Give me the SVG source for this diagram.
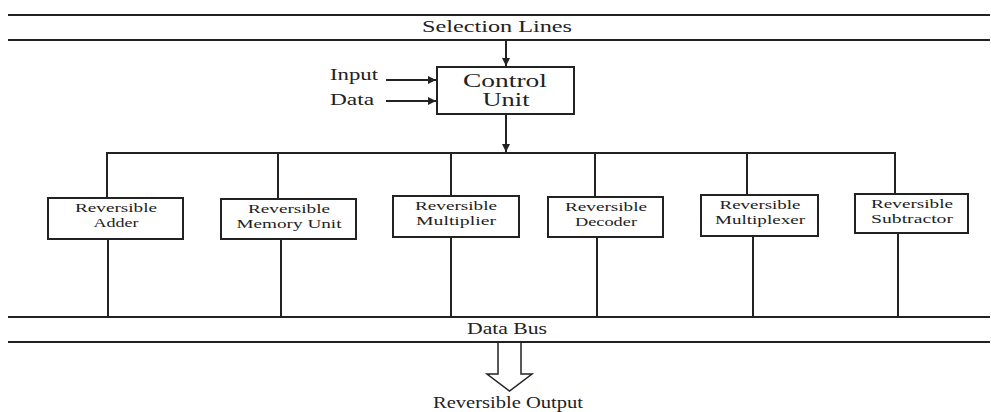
<svg xmlns="http://www.w3.org/2000/svg" width="991" height="412" viewBox="0 0 991 412">
  <style>
    .ln { stroke: #222; stroke-width: 2; fill: none; }
    .box { stroke: #222; stroke-width: 2; fill: #fff; }
    .t { font-family: "Liberation Serif", "Times New Roman", serif; fill: #222; text-anchor: middle; }
    .big { font-size: 16px; }
    .cu { font-size: 18px; }
    .sm { font-size: 13px; }
  </style>
  <defs>
    <marker id="head" viewBox="0 0 10 10" refX="10" refY="5" markerWidth="8" markerHeight="8" markerUnits="userSpaceOnUse" orient="auto">
      <path d="M0,0 L10,5 L0,10 z" fill="#222"/>
    </marker>
  </defs>
  <rect width="991" height="412" fill="#fff"/>

  <!-- selection lines bus -->
  <g id="selection-lines">
    <line class="ln" x1="8" y1="15" x2="990" y2="15"/>
    <line class="ln" x1="8" y1="40" x2="990" y2="40"/>
    <text class="t big" x="497" y="32" textLength="150" lengthAdjust="spacingAndGlyphs">Selection Lines</text>
  </g>

  <!-- input labels -->
  <g id="input-label">
    <text class="t big" x="354" y="80" textLength="48" lengthAdjust="spacingAndGlyphs">Input</text>
  </g>
  <g id="data-label">
    <text class="t big" x="352" y="105" textLength="44" lengthAdjust="spacingAndGlyphs">Data</text>
  </g>

  <!-- control unit -->
  <g id="control-unit">
    <rect class="box" x="437" y="67" width="137" height="47"/>
    <text class="t cu" x="505" y="87" textLength="84" lengthAdjust="spacingAndGlyphs">Control</text>
    <text class="t cu" x="506" y="106" textLength="47" lengthAdjust="spacingAndGlyphs">Unit</text>
  </g>

  <!-- functional blocks -->
  <g id="adder">
    <rect class="box" x="48" y="198" width="135" height="41"/>
    <text class="t sm" x="116" y="212" textLength="82" lengthAdjust="spacingAndGlyphs">Reversible</text>
    <text class="t sm" x="116" y="227" textLength="45" lengthAdjust="spacingAndGlyphs">Adder</text>
  </g>
  <g id="memory-unit">
    <rect class="box" x="221" y="199" width="135" height="40"/>
    <text class="t sm" x="289" y="213" textLength="82" lengthAdjust="spacingAndGlyphs">Reversible</text>
    <text class="t sm" x="289" y="228" textLength="105" lengthAdjust="spacingAndGlyphs">Memory Unit</text>
  </g>
  <g id="multiplier">
    <rect class="box" x="393" y="196" width="126" height="41"/>
    <text class="t sm" x="456" y="210" textLength="82" lengthAdjust="spacingAndGlyphs">Reversible</text>
    <text class="t sm" x="456" y="225" textLength="80" lengthAdjust="spacingAndGlyphs">Multiplier</text>
  </g>
  <g id="decoder">
    <rect class="box" x="548" y="197" width="115" height="40"/>
    <text class="t sm" x="606" y="211" textLength="82" lengthAdjust="spacingAndGlyphs">Reversible</text>
    <text class="t sm" x="606" y="226" textLength="62" lengthAdjust="spacingAndGlyphs">Decoder</text>
  </g>
  <g id="multiplexer">
    <rect class="box" x="701" y="195" width="117" height="41"/>
    <text class="t sm" x="760" y="209" textLength="81" lengthAdjust="spacingAndGlyphs">Reversible</text>
    <text class="t sm" x="760" y="224" textLength="90" lengthAdjust="spacingAndGlyphs">Multiplexer</text>
  </g>
  <g id="subtractor">
    <rect class="box" x="855" y="194" width="113" height="39"/>
    <text class="t sm" x="912" y="208" textLength="82" lengthAdjust="spacingAndGlyphs">Reversible</text>
    <text class="t sm" x="912" y="223" textLength="82" lengthAdjust="spacingAndGlyphs">Subtractor</text>
  </g>

  <!-- data bus -->
  <g id="data-bus">
    <line class="ln" x1="8" y1="317" x2="990" y2="317"/>
    <line class="ln" x1="8" y1="342" x2="990" y2="342"/>
    <text class="t big" x="507" y="334" textLength="80" lengthAdjust="spacingAndGlyphs">Data Bus</text>
  </g>

  <!-- output -->
  <g id="reversible-output">
    <path d="M498,343 V374 H487 L509.5,391 L532,374 H521 V343" fill="#fff" stroke="#222" stroke-width="1.5" stroke-linejoin="miter"/>
    <text class="t big" x="508" y="408" textLength="150" lengthAdjust="spacingAndGlyphs">Reversible Output</text>
  </g>

  <!-- connectors -->
  <g id="connectors">
    <line class="ln" x1="506" y1="41" x2="506" y2="66" marker-end="url(#head)"/>
    <line class="ln" x1="386" y1="80" x2="436" y2="80" marker-end="url(#head)"/>
    <line class="ln" x1="386" y1="101" x2="436" y2="101" marker-end="url(#head)"/>
    <line class="ln" x1="506" y1="114" x2="506" y2="152" marker-end="url(#head)"/>
    <!-- distribution bus -->
    <line class="ln" x1="106" y1="153" x2="896" y2="153"/>
    <line class="ln" x1="107" y1="153" x2="107" y2="198"/>
    <line class="ln" x1="278" y1="153" x2="278" y2="199"/>
    <line class="ln" x1="451" y1="153" x2="451" y2="196"/>
    <line class="ln" x1="595" y1="153" x2="595" y2="197"/>
    <line class="ln" x1="747" y1="153" x2="747" y2="195"/>
    <line class="ln" x1="895" y1="153" x2="895" y2="194"/>
    <!-- block outputs to data bus -->
    <line class="ln" x1="108" y1="239" x2="108" y2="317"/>
    <line class="ln" x1="281" y1="239" x2="281" y2="317"/>
    <line class="ln" x1="451" y1="237" x2="451" y2="317"/>
    <line class="ln" x1="597" y1="237" x2="597" y2="317"/>
    <line class="ln" x1="753" y1="236" x2="753" y2="317"/>
    <line class="ln" x1="898" y1="233" x2="898" y2="317"/>
  </g>
</svg>
